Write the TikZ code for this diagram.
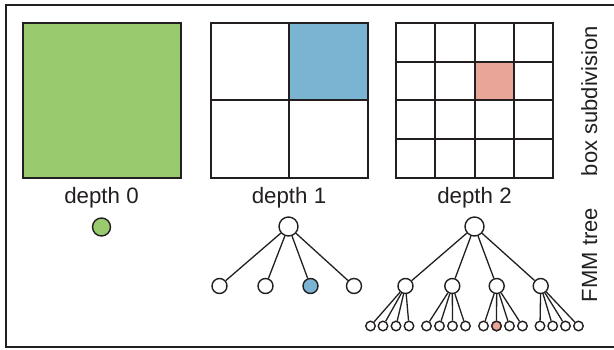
\documentclass[tikz,border=0pt]{standalone}
\usepackage{fontspec}
\setmainfont{Liberation Sans}
\definecolor{ink}{HTML}{231F20}
\definecolor{fgreen}{HTML}{9ACA6E}
\definecolor{fblue}{HTML}{7BB3D3}
\definecolor{fpink}{HTML}{E8A598}
\begin{document}
\begin{tikzpicture}[x=1pt,y=-1pt,
  boxline/.style={draw=ink,line width=1.7pt},
  lbl/.style={font=\fontsize{22.3}{26}\selectfont,text=ink,inner sep=0pt,anchor=base},
  side/.style={font=\fontsize{22}{26}\selectfont,text=ink,inner sep=0pt,anchor=base,rotate=90},
  tn/.style={circle,draw=ink,line width=1.4pt,fill=white,inner sep=0pt},
  big/.style={tn,minimum size=19pt},
  mid/.style={tn,minimum size=15pt},
  small/.style={tn,minimum size=9.5pt},
  edge/.style={draw=ink,line width=1.3pt}]
\useasboundingbox (0,0) rectangle (614,350);
% outer frame (right side lies beyond the picture)
\draw[ink,line width=2.3pt] (616,5) -- (6,5) -- (6,347) -- (616,347);
% depth 0 box
\filldraw[fill=fgreen,boxline] (23,23) rectangle (181,178);
% depth 1 box
\fill[fblue] (289,23) rectangle (368,100);
\draw[boxline] (211,23) rectangle (368,178);
\draw[boxline] (289,23) -- (289,178);
\draw[boxline] (211,100) -- (368,100);
% depth 2 box
\fill[fpink] (474.75,61.75) rectangle (514,100);
\draw[boxline] (396,23) rectangle (553,178);
\foreach \gx in {435.25,474.75,514} {\draw[boxline] (\gx,23) -- (\gx,178);}
\foreach \gy in {61.75,100,139.25} {\draw[boxline] (396,\gy) -- (553,\gy);}
% labels
\node[lbl] (l0) at (101.5,204) {depth 0};
\node[lbl] (l1) at (289,204) {depth 1};
\node[lbl] (l2) at (474.5,204) {depth 2};
\node[side] (sbox) at (597,101) {box subdivision};
\node[side] (stree) at (597,255) {FMM tree};
% tree depth 0
\node[tn,fill=fgreen,minimum size=18pt] (r0) at (101.5,227) {};
% tree depth 1
\node[big] (r1) at (288.5,226.5) {};
\node[mid] (a1) at (219.5,286) {};
\node[mid] (a2) at (265.5,286) {};
\node[mid,fill=fblue] (a3) at (310.5,286) {};
\node[mid] (a4) at (354,286) {};
\foreach \c in {a1,a2,a3,a4} {\draw[edge] (r1) -- (\c);}
% tree depth 2
\node[big] (r2) at (474.5,226.5) {};
\node[mid] (b1) at (405.5,286) {};
\node[mid] (b2) at (452.3,286) {};
\node[mid] (b3) at (496.7,286) {};
\node[mid] (b4) at (540.7,286) {};
\foreach \c in {b1,b2,b3,b4} {\draw[edge] (r2) -- (\c);}
\foreach \x [count=\i] in {370.5,383,396,409} {\node[small] (c1\i) at (\x,326) {}; \draw[edge] (b1) -- (c1\i);}
\foreach \x [count=\i] in {426.5,439.5,452.5,465.5} {\node[small] (c2\i) at (\x,326) {}; \draw[edge] (b2) -- (c2\i);}
\foreach \x [count=\i] in {483.5,496.5,509.5,522.5} {\node[small] (c3\i) at (\x,326) {}; \draw[edge] (b3) -- (c3\i);}
\foreach \x [count=\i] in {540,552.7,565.5,578.5} {\node[small] (c4\i) at (\x,326) {}; \draw[edge] (b4) -- (c4\i);}
\node[small,fill=fpink] at (c32) {};
\end{tikzpicture}
\end{document}
